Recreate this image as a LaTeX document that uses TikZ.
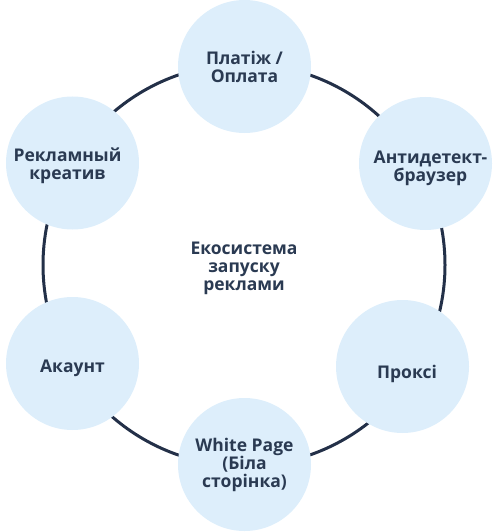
\documentclass[tikz,border=0pt]{standalone}
\usepackage{fontspec}
\setmainfont{Open Sans}
\usetikzlibrary{positioning,calc}
\definecolor{ringcol}{HTML}{233048}
\definecolor{bubblefill}{HTML}{DDEEFB}
\definecolor{labcol}{HTML}{2A3A52}
\tikzset{
  bubble/.style={circle, fill=bubblefill, minimum size=133pt, inner sep=0pt},
  bubblelab/.style={align=center, font=\bfseries\fontsize{17.5}{18}\selectfont, text=labcol, inner sep=0pt},
  ringline/.style={draw=ringcol, line width=3pt},
}

\begin{document}
\begin{tikzpicture}[x=1pt,y=-1pt]
\useasboundingbox (0,0) rectangle (499,532);
\coordinate (ringc) at (244,265);
\draw[ringline] (ringc) circle (201pt);
\node[bubblelab] (hub) at ($(ringc)+(0,3)$) {Екосистема\\запуску\\реклами};
% bubbles round the ring, labels nudged as in the original
\node[bubble, label={[bubblelab, yshift=-0.5pt]center:{Платіж /\\Оплата}}] (pay) at (244.5,66.5) {};
\node[bubble, label={[bubblelab, xshift=5pt, yshift=-5pt]center:{Антидетект-\\браузер}}] (anti) at (425.5,163.5) {};
\node[bubble, label={[bubblelab, xshift=4.5pt, yshift=-7pt]center:{Проксі}}] (proxy) at (402.5,366.5) {};
\node[bubble, label={[bubblelab]center:{White Page\\(Біла\\сторінка)}}] (white) at (244.5,464.5) {};
\node[bubble, label={[bubblelab, yshift=-5pt]center:{Акаунт}}] (acc) at (72.5,363.5) {};
\node[bubble, label={[bubblelab, xshift=-5pt, yshift=-2.5pt]center:{Рекламный\\креатив}}] (creo) at (72.5,163) {};
\end{tikzpicture}
\end{document}
